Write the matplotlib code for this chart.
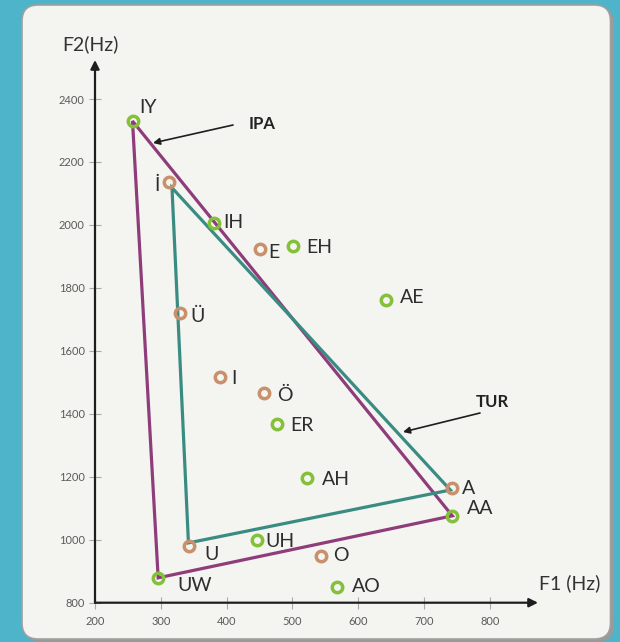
import matplotlib
matplotlib.use("Agg")
import matplotlib.pyplot as plt
from matplotlib.patches import FancyBboxPatch

# ---------------- data ----------------
vowels = ["IY", "İ", "IH", "E", "EH", "AE", "Ü", "I", "Ö", "ER",
          "AH", "A", "AA", "U", "UH", "O", "UW", "AO"]
f1 = [257, 312, 381, 451, 501, 642, 329, 390, 457, 477,
      522, 743, 743, 343, 446, 543, 296, 568]
f2 = [2330, 2137, 2007, 1925, 1934, 1763, 1721, 1518, 1467, 1369,
      1197, 1165, 1076, 981, 1000, 949, 879, 851]
group = ["IPA", "TUR", "IPA", "TUR", "IPA", "IPA", "TUR", "TUR", "TUR", "IPA",
         "IPA", "TUR", "IPA", "TUR", "IPA", "TUR", "IPA", "IPA"]

ipa_tri_f1 = [257, 743, 296]
ipa_tri_f2 = [2330, 1076, 879]
tur_tri_f1 = [317, 740, 342]
tur_tri_f2 = [2118, 1158, 990]

xticks = [200, 300, 400, 500, 600, 700, 800]
yticks = [800, 1000, 1200, 1400, 1600, 1800, 2000, 2200, 2400]

# label offsets in pixels (dx, dy up), text centre relative to marker
label_offsets = {
    "IY": (7, 15), "İ": (-9, -2), "IH": (9, 2), "E": (8, -2), "EH": (13, 0),
    "AE": (14, 4), "Ü": (10, -2), "I": (11, 0), "Ö": (13, -1), "ER": (13, 0),
    "AH": (15, 0), "A": (10, 1), "AA": (15, 9), "U": (15, -7), "UH": (9, 0),
    "O": (12, 2), "UW": (19, -6), "AO": (15, 2),
}

# ---------------- style ----------------
BG = "#4DB4C9"
PANEL = "#F4F4F1"
GREEN = "#84C03A"
BROWN = "#C8906C"
PURPLE = "#8E3D7A"
TEAL = "#3A8C82"
color_of = {"IPA": GREEN, "TUR": BROWN}

W, H = 620, 642
fig = plt.figure(figsize=(W / 100, H / 100), dpi=100, facecolor=BG)

# panel with shadow
shadow = FancyBboxPatch((0.245, 0.005), 5.895, 6.34,
                        boxstyle="round,pad=0,rounding_size=0.16",
                        transform=fig.dpi_scale_trans, facecolor="#9A9A9A",
                        edgecolor="none", zorder=-2)
fig.patches.append(shadow)
panel = FancyBboxPatch((0.22, 0.03), 5.885, 6.34,
                       boxstyle="round,pad=0,rounding_size=0.16",
                       transform=fig.dpi_scale_trans, facecolor=PANEL,
                       edgecolor="#A0A0A0", linewidth=1.2, zorder=-1)
fig.patches.append(panel)

ax_left, ax_bottom_px, ax_w, ax_h = 95, 602.7, 443, 542.7
ax = fig.add_axes([ax_left / W, (H - ax_bottom_px) / H, ax_w / W, ax_h / H])
ax.set_zorder(2)
ax.set_facecolor("none")
x0, y0 = 200, 800
ax.set_xlim(x0, x0 + ax_w / 0.658)
ax.set_ylim(y0, y0 + ax_h / 0.3148)
for s in ax.spines.values():
    s.set_visible(False)

ax.set_xticks(xticks)
ax.set_yticks(yticks)
ax.tick_params(axis="both", direction="inout", length=8, width=0.8,
               color="#AAAAAA", labelsize=8, labelcolor="#5A5A5A")
ax.tick_params(axis="x", pad=5.5)
ax.tick_params(axis="y", pad=3.5)
for lab in ax.get_xticklabels() + ax.get_yticklabels():
    lab.set_family(["Lato", "DejaVu Sans"])

# axes arrows
arrow_kw = dict(arrowstyle="-|>", mutation_scale=13, lw=1.6, color="#1E1E1E",
                shrinkA=0, shrinkB=0)
ax.annotate("", xy=(1, 0), xytext=(0, 0), xycoords="axes fraction",
            textcoords="axes fraction", arrowprops=arrow_kw, zorder=3)
ax.annotate("", xy=(0, 1), xytext=(0, 0), xycoords="axes fraction",
            textcoords="axes fraction", arrowprops=arrow_kw, zorder=3)

fam = ["Lato", "DejaVu Sans"]
fig.text(90 / W, 1 - 44 / H, "F2(Hz)", ha="center", va="center",
         fontsize=14, color="#333333", family=fam)
fig.text(570 / W, 1 - 583 / H, "F1 (Hz)", ha="center", va="center",
         fontsize=14, color="#333333", family=fam)

# triangles
ax.fill(ipa_tri_f1, ipa_tri_f2, facecolor="none", edgecolor=PURPLE,
        lw=2.3, zorder=4, joinstyle="miter")
ax.fill(tur_tri_f1, tur_tri_f2, facecolor="none", edgecolor=TEAL,
        lw=2.3, zorder=5, joinstyle="miter")

# markers and labels
for name, x, y, g in zip(vowels, f1, f2, group):
    ax.plot([x], [y], marker="o", ms=7.5, mew=2.5, mec=color_of[g],
            mfc="none", ls="none", zorder=6)
    dx, dy = label_offsets[name]
    ha = "right" if dx < 0 else "left"
    ax.annotate(name, (x, y), xytext=(dx * 0.72, (dy - 7) * 0.72),
                textcoords="offset points", ha=ha, va="baseline",
                fontsize=14, color="#2E2E2E", family=fam, zorder=7)

# IPA / TUR callouts
def px_to_data(px, py):
    return (x0 + (px - ax_left) / 0.658, y0 + (ax_bottom_px - py) / 0.3148)

ann_kw = dict(arrowstyle="-|>", mutation_scale=10, lw=1.2, color="#1E1E1E",
              shrinkA=0, shrinkB=0)
ax.annotate("", xy=px_to_data(153, 143), xytext=px_to_data(233, 125),
            arrowprops=ann_kw, zorder=8)
ax.text(*px_to_data(262, 124), "IPA", ha="center", va="center",
        fontsize=12, fontweight="bold", color="#222222", family=fam)
ax.annotate("", xy=px_to_data(403, 432), xytext=px_to_data(480, 413),
            arrowprops=ann_kw, zorder=8)
ax.text(*px_to_data(492, 402), "TUR", ha="center", va="center",
        fontsize=12, fontweight="bold", color="#222222", family=fam)

fig.savefig("out.png", dpi=100, facecolor=BG)
